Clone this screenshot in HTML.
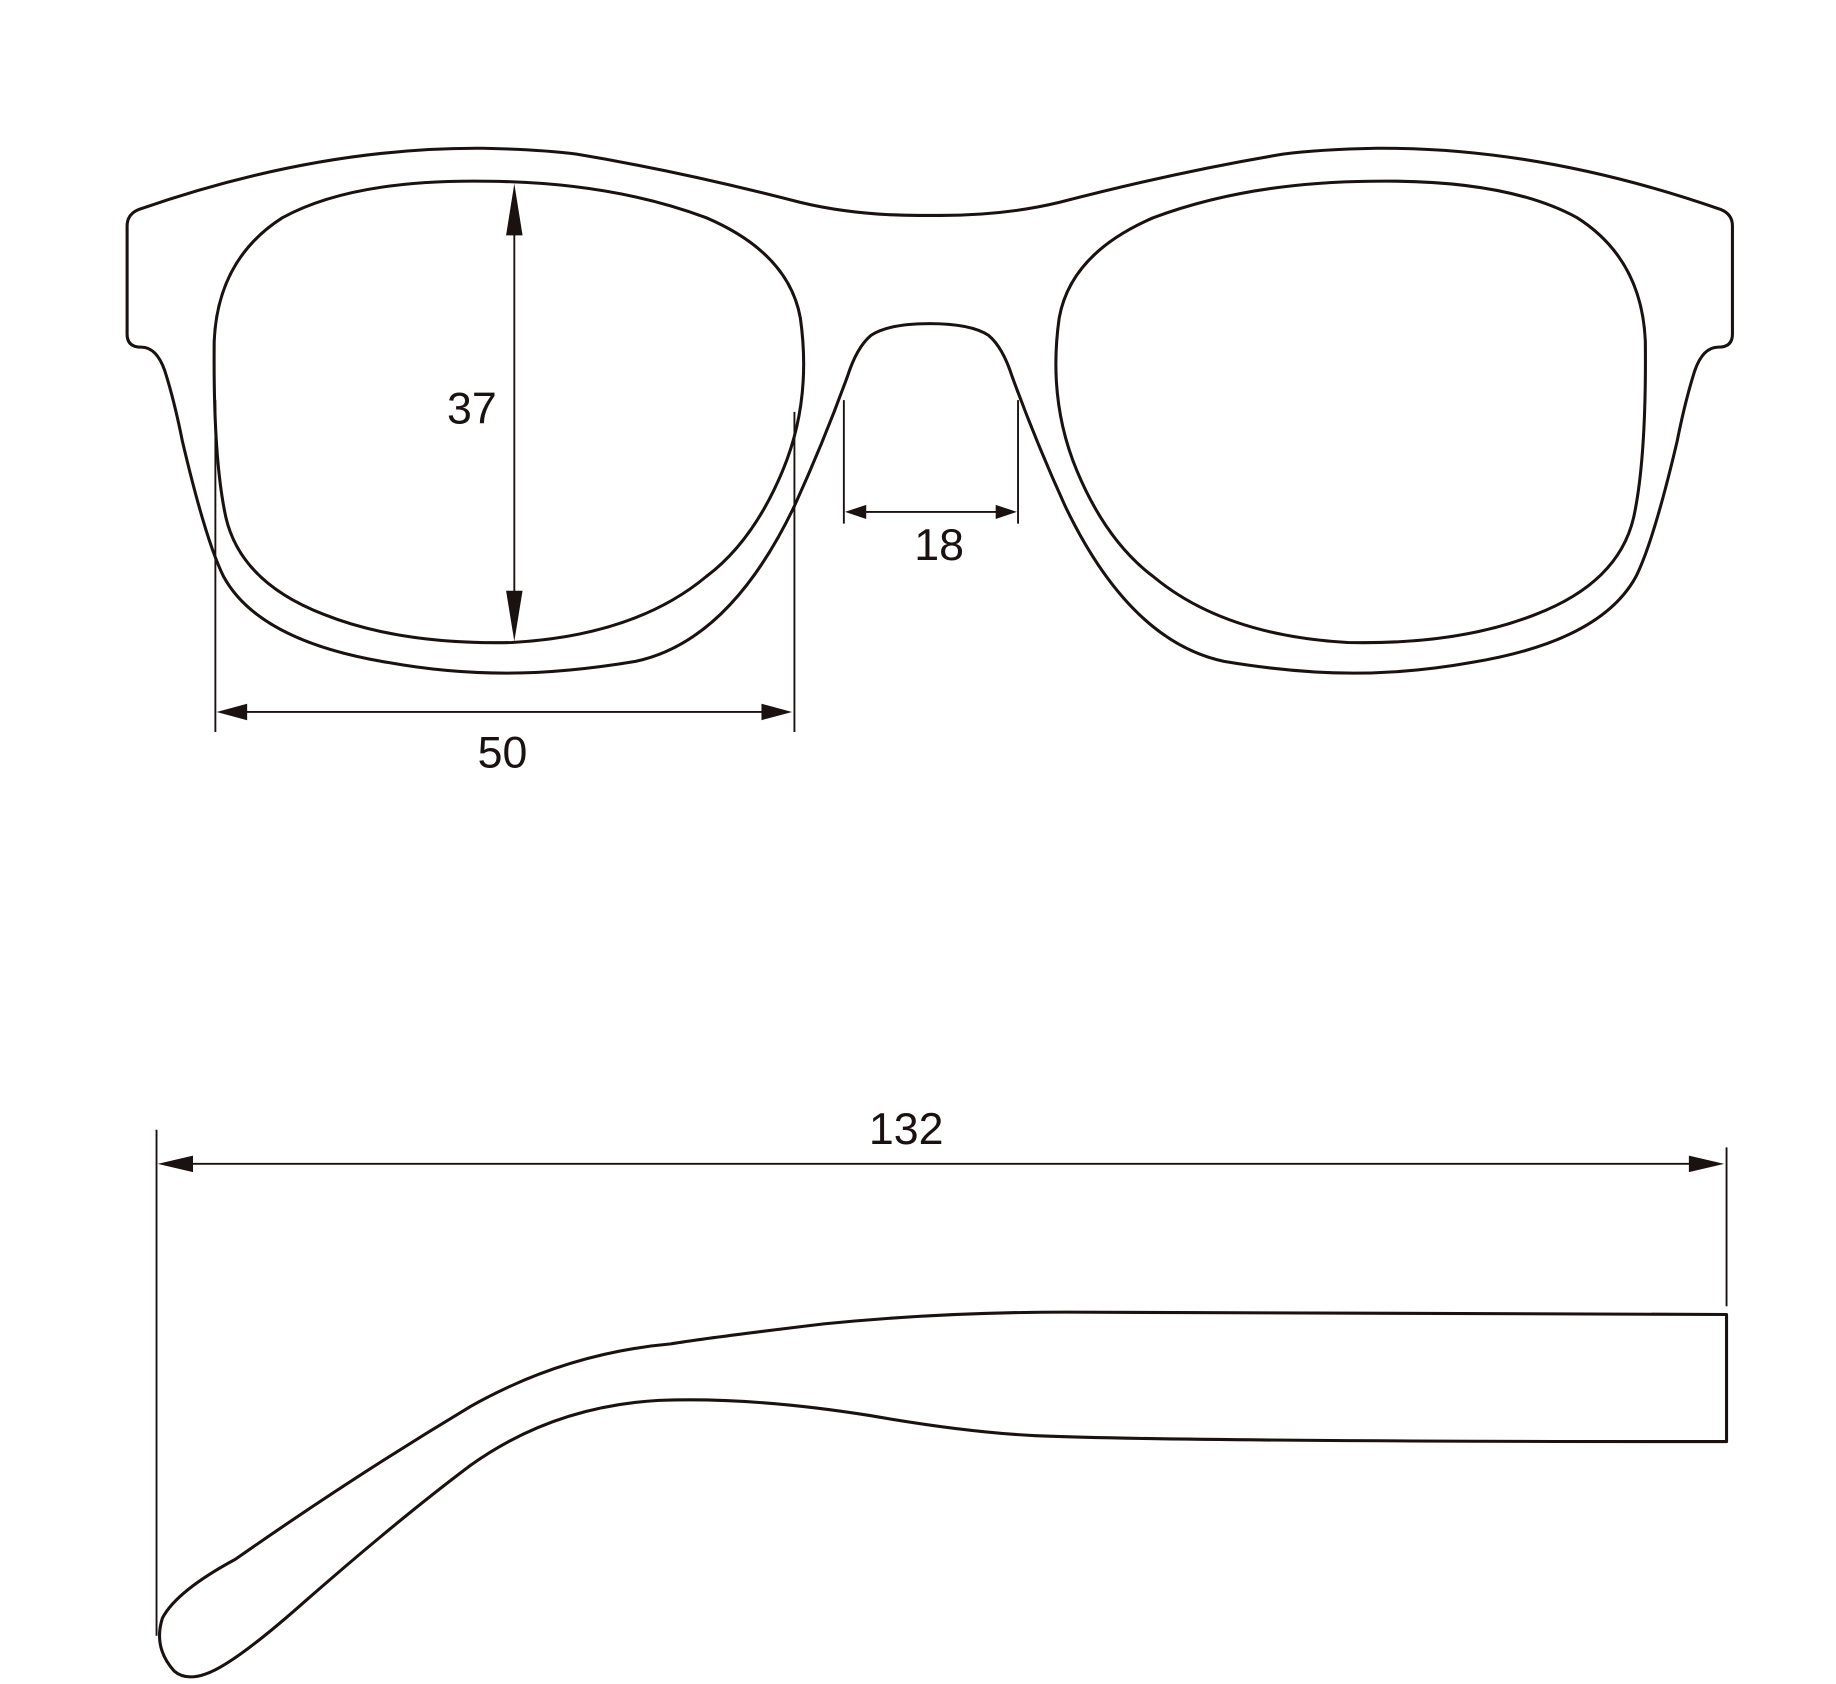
<!DOCTYPE html>
<html><head><meta charset="utf-8"><style>html,body{margin:0;padding:0;background:#fff}svg{display:block}</style></head>
<body>
<svg width="1836" height="1684" viewBox="0 0 1560 1431" preserveAspectRatio="none" xmlns="http://www.w3.org/2000/svg">
<g fill="none" stroke="#1a1111" stroke-width="2.6" stroke-linejoin="round">
<path d="M108,192 Q108,182 118,178 Q270,125 410,126 Q460,127 490,131 Q580,146 680,172 Q730,184 790,183 Q850,184 900,172 Q1000,146 1090,131 Q1120,127 1170,126 Q1310,125 1462,178 Q1472,182 1472,192 L1472,284 Q1472,295 1460,295 Q1447,295 1440,315 Q1432,340 1425,375 Q1405,460 1390,490 Q1360,545 1250,563 Q1200,572 1150,572 Q1100,572 1040,562 Q960,545 905,430 Q880,375 860,320 Q852,295 840,285 Q825,275 790,275 Q755,275 740,285 Q728,295 720,320 Q700,375 675,430 Q620,545 540,562 Q480,572 430,572 Q380,572 330,563 Q220,545 190,490 Q175,460 155,375 Q148,340 140,315 Q133,295 120,295 Q108,295 108,284 Z"/>
<path id="lens" d="M415,154 Q520,155 600,185 Q670,215 680,270 Q690,340 665,400 Q640,460 600,490 Q540,540 435,546 Q340,548 275,522 Q205,495 192,440 Q181,390 182,290 Q185,220 240,185 Q300,152 415,154 Z"/>
<use href="#lens" transform="translate(1580,0) scale(-1,1)"/>
<path d="M1467,1117 L905,1115 Q800,1115 700,1125 Q600,1137 570,1142 Q480,1150 400,1195 Q300,1255 200,1325 Q150,1352 138,1375 Q130,1400 148,1420 Q162,1432 190,1415 Q215,1400 260,1360 Q340,1290 400,1245 Q470,1195 560,1190 Q640,1187 740,1203 Q820,1217 880,1220 Q1000,1225 1467,1225 Z"/>
</g>
<g stroke="#1a1111" stroke-width="1.6" fill="none">
<line x1="437" y1="170" x2="437" y2="530"/>
<line x1="183" y1="340" x2="183" y2="622"/>
<line x1="675" y1="350" x2="675" y2="622"/>
<line x1="200" y1="605" x2="660" y2="605"/>
<line x1="717" y1="340" x2="717" y2="445"/>
<line x1="865" y1="340" x2="865" y2="445"/>
<line x1="730" y1="435" x2="852" y2="435"/>
<line x1="133" y1="960" x2="133" y2="1390"/>
<line x1="1467" y1="975" x2="1467" y2="1110"/>
<line x1="150" y1="989" x2="1450" y2="989"/>
</g>
<g fill="#1a1111">
<polygon points="437,156 430,200 444,200"/>
<polygon points="437,545 430,502 444,502"/>
<polygon points="184,605 210,598 210,612"/>
<polygon points="673,605 647,598 647,612"/>
<polygon points="718,435 736,429 736,441"/>
<polygon points="864,435 846,429 846,441"/>
<polygon points="134,989 164,982 164,996"/>
<polygon points="1465,989 1435,982 1435,996"/>
</g>
<g font-family="Liberation Sans, Arial, sans-serif" font-size="38" fill="#1a1111" text-anchor="middle">
<text x="401" y="360">37</text>
<text x="427" y="652">50</text>
<text x="798" y="476">18</text>
<text x="770" y="972">132</text>
</g>
</svg>
</body></html>
